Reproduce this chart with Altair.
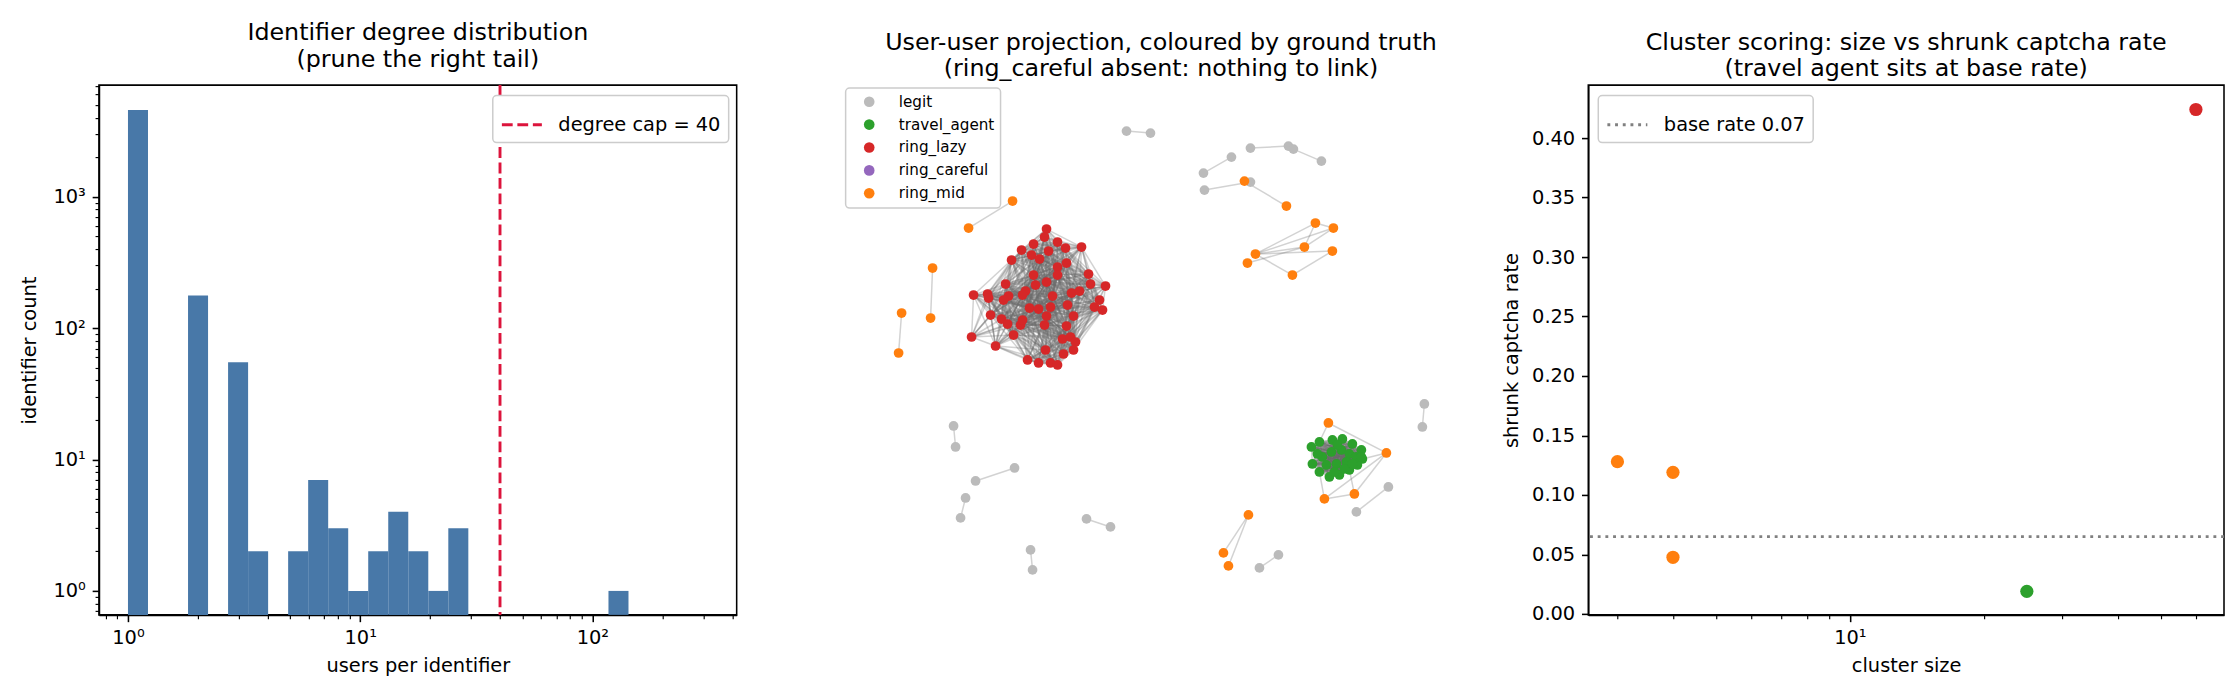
import altair as alt
import numpy as np
import pandas as pd

FONT = "DejaVu Sans"
TITLE_FS = 23.8
LABEL_FS = 19.4
SMALL_FS = 15.2

# ---------------- panel 1: identifier degree histogram ----------------
hist_counts = [4580, 0, 0, 177, 0, 55, 2, 0, 2, 7, 3, 1, 2, 4, 2, 1, 3,
               0, 0, 0, 0, 0, 0, 0, 1]
max_degree = 143
degree_cap = 40
cap_label = ["degree cap = 40"]

# ---------------- panel 2: user-user projection ----------------
groups = ["legit", "travel_agent", "ring_lazy", "ring_careful", "ring_mid"]
group_colors = ["#bbbbbb", "#2ca02c", "#d62728", "#9467bd", "#ff7f0e"]

legit_x = [284, 308, 408, 446, 451, 479, 361, 389, 362, 408, 111, 113, 133, 172,
           123, 118, 244, 268, 188, 190, 417, 436, 582, 580, 546, 514]
legit_y = [46, 48, 63, 61, 64, 76, 88, 72, 105, 97, 341, 362, 396, 383,
           413, 433, 434, 442, 465, 485, 483, 470, 319, 342, 402, 427]
legit_edges = [(0, 1), (2, 3), (4, 5), (6, 7), (8, 9), (10, 11), (12, 13),
               (14, 15), (16, 17), (18, 19), (20, 21), (22, 23), (24, 25)]

travel_x = [469, 477, 490, 500, 510, 519, 520, 515, 507, 497, 487, 477, 470, 480,
            489, 499, 507, 514, 494, 504, 484, 510, 492, 502, 475, 495, 519]
travel_y = [362, 357, 355, 354, 359, 365, 374, 380, 385, 390, 392, 387, 379, 372,
            367, 365, 369, 372, 379, 377, 380, 379, 387, 384, 369, 360, 372]

lazy_x = [204, 202, 215, 191, 223, 239, 179, 189, 197, 206, 169, 215, 224, 191, 215,
          246, 248, 263, 163, 204, 193, 183, 131, 145, 146, 166, 161, 180, 210, 229,
          237, 257, 252, 260, 187, 196, 208, 225, 148, 159, 165, 178, 180, 204, 202,
          231, 224, 129, 153, 171, 220, 228, 233, 203, 221, 231, 185, 196, 208, 215]
lazy_y = [144, 152, 157, 159, 163, 162, 165, 170, 174, 166, 175, 182, 178, 190, 190,
          189, 199, 201, 199, 197, 200, 206, 210, 209, 213, 211, 215, 210, 211, 208,
          206, 215, 222, 225, 223, 224, 222, 220, 230, 234, 239, 240, 235, 231, 240,
          231, 241, 252, 261, 250, 254, 252, 257, 265, 269, 265, 275, 278, 278, 280]
lazy_link_radius = 60

mid_x = [170, 126, 90, 88, 59, 56, 402, 444, 473, 491, 462, 490, 413, 405, 450,
         486, 544, 482, 512, 406, 381, 386]
mid_y = [116, 143, 183, 233, 228, 268, 96, 121, 138, 143, 162, 166, 169, 178, 190,
         338, 368, 414, 409, 430, 468, 481]
mid_edges = [(0, 1), (2, 3), (4, 5), (6, 7), (12, 8), (12, 9), (12, 10), (12, 11),
             (12, 14), (11, 14), (8, 10), (8, 9), (10, 9), (13, 10),
             (15, 16), (16, 18), (16, 17), (17, 18), (19, 20), (19, 21)]
mid_travel_edges = [(15, 1), (16, 6), (17, 11), (18, 8)]

# ---------------- panel 3: cluster scoring ----------------
cluster_size = [3, 4, 4, 25, 60]
cluster_rate = [0.128, 0.119, 0.0476, 0.019, 0.424]
cluster_color = ["#ff7f0e", "#ff7f0e", "#ff7f0e", "#2ca02c", "#d62728"]
base_rate = 0.065
base_label = ["base rate 0.07"]

# ======================================================================
SUP = {1: "10⁰", 10: "10¹", 100: "10²", 1000: "10³"}


def log_axis(values, majors, title, **kw):
    expr = " : ".join(f"datum.value == {m} ? '{SUP[m]}'" for m in majors) + " : ''"
    test = "indexof([" + ",".join(str(m) for m in majors) + "], datum.value) >= 0"
    return alt.Axis(
        values=values, labelExpr=expr, title=title,
        tickSize={"condition": {"test": test, "value": 6.8}, "value": 3.9},
        tickWidth={"condition": {"test": test, "value": 1.55}, "value": 1.15},
        labelOverlap=False, labelFlush=False, grid=False, **kw)


def line_legend(x, y, dash):
    return alt.Legend(orient="none", legendX=x, legendY=y,
                      symbolType="stroke", symbolSize=1600,
                      symbolStrokeWidth=2.9, symbolDash=dash,
                      labelFontSize=LABEL_FS, labelOffset=15, labelLimit=1000,
                      padding=7.6, strokeColor="#cccccc",
                      fillColor="white", cornerRadius=4)


# ---- panel 1
edges = np.logspace(0, np.log10(max_degree), len(hist_counts) + 1)
Y_MIN, Y_MAX = 0.657, 7080
hist_df = pd.DataFrame({"lo": edges[:-1], "hi": edges[1:], "count": hist_counts})
hist_df = hist_df[hist_df["count"] > 0].copy()
hist_df["base"] = Y_MIN

x1_vals = [0.8, 0.9] + list(range(1, 10)) + list(range(10, 100, 10)) + [100, 200, 300, 400]
y1_vals = [0.7, 0.8, 0.9] + list(range(1, 10)) + list(range(10, 100, 10)) + \
    list(range(100, 1000, 100)) + list(range(1000, 8000, 1000))

bars = alt.Chart(hist_df).mark_rect(color="#4878a8").encode(
    x=alt.X("lo:Q", scale=alt.Scale(type="log", domain=[0.75, 418], nice=False),
            axis=log_axis(x1_vals, [1, 10, 100], "users per identifier",
                          minExtent=33, maxExtent=33, titlePadding=9)),
    x2="hi:Q",
    y=alt.Y("count:Q", scale=alt.Scale(type="log", domain=[Y_MIN, Y_MAX], nice=False),
            axis=log_axis(y1_vals, [1, 10, 100, 1000], "identifier count",
                          minExtent=47, maxExtent=47, titlePadding=12)),
    y2="base:Q",
)
cap = alt.Chart(pd.DataFrame({"x": [degree_cap], "label": cap_label})).mark_rule(
    strokeDash=[10.8, 4.7], strokeWidth=2.9).encode(
    x="x:Q",
    stroke=alt.Stroke("label:N", title=None, scale=alt.Scale(range=["#dc143c"]),
                      legend=line_legend(394, 10.5, [10.8, 4.7])),
)
panel1 = alt.layer(bars, cap).properties(
    width=638, height=530,
    title=alt.TitleParams(["Identifier degree distribution", "(prune the right tail)"]))

# ---- panel 2
nodes = []
for gx, gy, g in [(legit_x, legit_y, "legit"), (travel_x, travel_y, "travel_agent"),
                  (lazy_x, lazy_y, "ring_lazy"), (mid_x, mid_y, "ring_mid")]:
    for x, y in zip(gx, gy):
        nodes.append({"x": x, "y": y, "group": g})
nodes_df = pd.DataFrame(nodes)

edge_rows = []


def add_edge(ax, ay, bx, by):
    edge_rows.append({"x1": ax, "y1": ay, "x2": bx, "y2": by})


for i, j in legit_edges:
    add_edge(legit_x[i], legit_y[i], legit_x[j], legit_y[j])
for i, j in mid_edges:
    add_edge(mid_x[i], mid_y[i], mid_x[j], mid_y[j])
for i, j in mid_travel_edges:
    add_edge(mid_x[i], mid_y[i], travel_x[j], travel_y[j])
for i in range(len(travel_x)):
    for j in range(i + 1, len(travel_x)):
        add_edge(travel_x[i], travel_y[i], travel_x[j], travel_y[j])
for i in range(len(lazy_x)):
    for j in range(i + 1, len(lazy_x)):
        if np.hypot(lazy_x[i] - lazy_x[j], lazy_y[i] - lazy_y[j]) < lazy_link_radius:
            add_edge(lazy_x[i], lazy_y[i], lazy_x[j], lazy_y[j])
edges_df = pd.DataFrame(edge_rows)

X2_DOM = [-94, 647]
Y2_DOM = [530, 0]
edge_layer = alt.Chart(edges_df).mark_rule(color="#6a6a6a", opacity=0.3, strokeWidth=1.5).encode(
    x=alt.X("x1:Q", scale=alt.Scale(domain=X2_DOM, nice=False, zero=False), axis=None),
    x2="x2:Q",
    y=alt.Y("y1:Q", scale=alt.Scale(domain=Y2_DOM, nice=False, zero=False), axis=None),
    y2="y2:Q",
)
node_layer = alt.Chart(nodes_df).mark_circle(size=95, opacity=1).encode(
    x=alt.X("x:Q", scale=alt.Scale(domain=X2_DOM, nice=False, zero=False), axis=None),
    y=alt.Y("y:Q", scale=alt.Scale(domain=Y2_DOM, nice=False, zero=False), axis=None),
    fill=alt.Fill("group:N", title=None,
                  scale=alt.Scale(domain=groups, range=group_colors),
                  legend=alt.Legend(orient="none", legendX=97, legendY=3,
                                    symbolType="circle", symbolSize=113,
                                    symbolStrokeWidth=0, labelFontSize=SMALL_FS,
                                    padding=6, symbolOffset=10, labelOffset=22,
                                    rowPadding=6.9, strokeColor="#cccccc",
                                    fillColor="white", cornerRadius=4)),
)
panel2 = alt.layer(edge_layer, node_layer).properties(
    width=741, height=530,
    view=alt.ViewBackground(stroke="transparent"),
    title=alt.TitleParams(["User-user projection, coloured by ground truth",
                           "(ring_careful absent: nothing to link)"], dx=42))

# ---- panel 3
df3 = pd.DataFrame({"size": cluster_size, "rate": cluster_rate, "color": cluster_color})
x3_vals = [3, 4, 5, 6, 7, 8, 9, 10, 20, 30, 40, 50, 60]
pts = alt.Chart(df3).mark_circle(size=175, opacity=1).encode(
    x=alt.X("size:Q", scale=alt.Scale(type="log", domain=[2.58, 69.4], nice=False),
            axis=log_axis(x3_vals, [10], "cluster size",
                          minExtent=33, maxExtent=33, titlePadding=9)),
    y=alt.Y("rate:Q", scale=alt.Scale(domain=[-0.0008, 0.4445], nice=False, zero=False),
            axis=alt.Axis(values=[0, 0.05, 0.1, 0.15, 0.2, 0.25, 0.3, 0.35, 0.4],
                          format=".2f", title="shrunk captcha rate", grid=False,
                          tickSize=6.8, tickWidth=1.55, minExtent=57, maxExtent=57,
                          titlePadding=10)),
    fill=alt.Fill("color:N", scale=None),
)
base = alt.Chart(pd.DataFrame({"y": [base_rate], "label": base_label})).mark_rule(
    strokeDash=[2.9, 4.8], strokeWidth=2.9).encode(
    y="y:Q",
    stroke=alt.Stroke("label:N", title=None, scale=alt.Scale(range=["#808080"]),
                      legend=line_legend(10, 10.5, [2.9, 4.8])),
)
panel3 = alt.layer(base, pts).properties(
    width=636, height=530,
    title=alt.TitleParams(["Cluster scoring: size vs shrunk captcha rate",
                           "(travel agent sits at base rate)"]))

chart = alt.hconcat(panel1, panel2, panel3, spacing=10).resolve_scale(
    stroke="independent", fill="independent", x="independent", y="independent"
).properties(
    padding={"left": 11, "top": 12, "right": 5, "bottom": 5}
).configure_view(stroke="black", strokeWidth=1.55).configure_axis(
    labelFont=FONT, titleFont=FONT, labelFontSize=LABEL_FS, titleFontSize=LABEL_FS,
    labelColor="black", titleColor="black", titleFontWeight="normal",
    domainColor="black", domainWidth=1.55, tickColor="black", labelPadding=6.8,
).configure_title(
    font=FONT, fontSize=TITLE_FS, fontWeight="normal", color="black",
    lineHeight=26.8, offset=0, frame="group", anchor="middle",
).configure_legend(
    labelFont=FONT, labelColor="black", strokeWidth=1.5,
)

chart.save("out.html", embed_options={"renderer": "svg", "actions": False})
